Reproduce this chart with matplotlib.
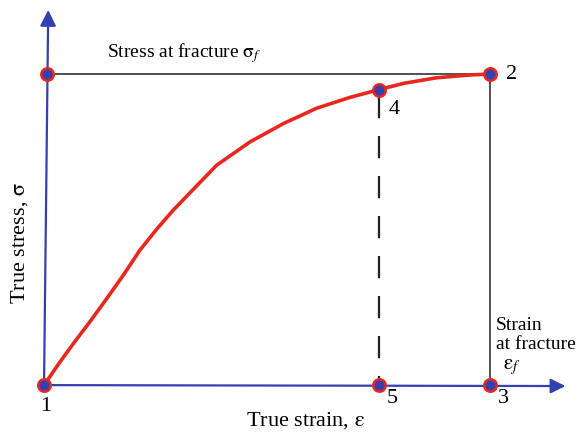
import matplotlib.pyplot as plt

# true stress - true strain curve (normalised: strain at fracture = 1, stress at fracture = 1)
strain = [0.0, 0.036, 0.066, 0.103, 0.141, 0.178, 0.215, 0.253, 0.290,
          0.387, 0.462, 0.537, 0.611, 0.686, 0.751, 0.806, 0.880, 0.955, 1.0]
stress = [0.0, 0.075, 0.134, 0.204, 0.279, 0.354, 0.434, 0.502, 0.563,
          0.707, 0.782, 0.841, 0.890, 0.925, 0.950, 0.970, 0.988, 0.997, 1.0]

# special points 1..5, plus the fracture-stress mark on the stress axis
pt_x = [0.0, 1.0, 1.0, 0.751, 0.751, 0.0075]
pt_y = [0.0, 1.0, 0.0, 0.950, 0.0, 1.0]
labels = ['1', '2', '3', '4', '5']
label_x = [0.004, 1.049, 1.031, 0.785, 0.780]
label_y = [-0.068, 1.0, -0.042, 0.887, -0.042]

blue = '#3440b0'
red = '#e8281e'

plt.rcParams['font.family'] = ['Liberation Serif', 'DejaVu Serif']

fig = plt.figure(figsize=(5.86, 4.38), dpi=100)
ax = fig.add_axes([0, 0, 1, 1])
ax.set_xlim(-0.0987, 1.215)
ax.set_ylim(-0.170, 1.238)
ax.axis('off')

# axes with arrows
ax.annotate('', xy=(1.175, -0.003), xytext=(0, 0),
            arrowprops=dict(arrowstyle='-|>', color=blue, lw=1.6, mutation_scale=22))
ax.annotate('', xy=(0.0095, 1.215), xytext=(0, 0),
            arrowprops=dict(arrowstyle='-|>', color=blue, lw=1.6, mutation_scale=24))

# fracture stress / strain lines
ax.plot([pt_x[5], pt_x[1]], [pt_y[5], pt_y[1]], color='#222222', lw=1.1)
ax.plot([pt_x[1], pt_x[2]], [pt_y[1], pt_y[2]], color='#222222', lw=1.1)
ax.plot([pt_x[3], pt_x[4]], [pt_y[3] - 0.02, pt_y[4]], color='#222222', lw=1.6,
        dashes=(10, 8))

ax.plot(strain, stress, color=red, lw=2.6, solid_capstyle='round',
        solid_joinstyle='round', zorder=3)

ax.scatter(pt_x, pt_y, s=80, facecolor=blue, edgecolor=red, linewidth=1.8, zorder=4)

for lab, lx, ly in zip(labels, label_x, label_y):
    ax.text(lx, ly, lab, ha='center', va='center', fontsize=16)

ax.text(0.141, 1.068, r'Stress at fracture $\mathrm{\sigma}_f$', ha='left', va='center',
        fontsize=14, math_fontfamily='stix')
ax.text(0.587, -0.113, r'True strain, $\mathrm{\varepsilon}$', ha='center', va='center',
        fontsize=16, math_fontfamily='stix')
ax.text(-0.054, 0.457, r'True stress, $\mathrm{\sigma}$', ha='center', va='center',
        rotation=90, fontsize=16, math_fontfamily='stix')
ax.text(1.013, 0.161, 'Strain\nat fracture', ha='left', va='center', fontsize=14,
        linespacing=1.2)
ax.text(1.049, 0.058, r'$\mathrm{\varepsilon}_f$', ha='center', va='center', fontsize=15,
        math_fontfamily='stix')

fig.savefig('out.png', dpi=100)
